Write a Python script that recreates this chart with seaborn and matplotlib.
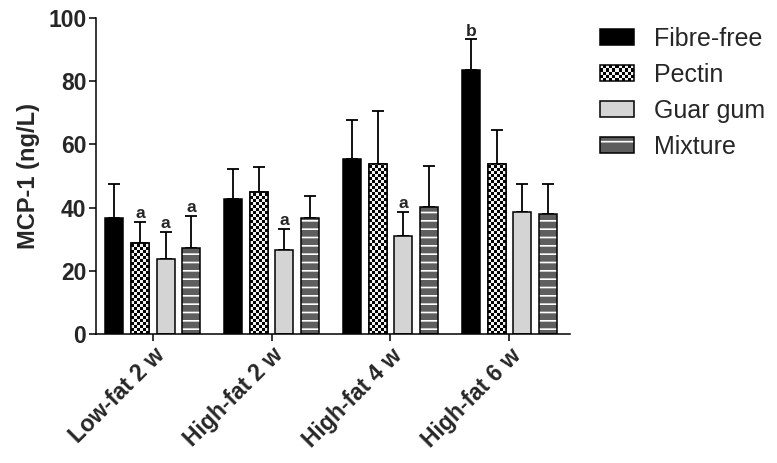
import numpy as np
import pandas as pd
import matplotlib
matplotlib.use("Agg")
import matplotlib.pyplot as plt
import seaborn as sns
from matplotlib.patches import Rectangle
from matplotlib.colors import ListedColormap
from matplotlib.legend_handler import HandlerBase, HandlerTuple

# ---------------- data ----------------
groups = ["Low-fat 2 w", "High-fat 2 w", "High-fat 4 w", "High-fat 6 w"]
diets = ["Fibre-free", "Pectin", "Guar gum", "Mixture"]
fibre_free = [36.6, 42.7, 55.4, 83.5]
fibre_free_err = [11.0, 9.6, 12.3, 9.7]
pectin = [28.7, 44.9, 53.8, 53.8]
pectin_err = [6.8, 8.1, 16.8, 10.8]
guar_gum = [23.7, 26.6, 31.0, 38.6]
guar_gum_err = [8.7, 6.6, 7.6, 8.9]
mixture = [27.3, 36.7, 40.2, 38.0]
mixture_err = [10.0, 7.0, 13.0, 9.5]
letters_ff = ["", "", "", "b"]
letters_pe = ["a", "", "", ""]
letters_gg = ["a", "a", "a", ""]
letters_mx = ["a", "", "", ""]
y_ticks = [0, 20, 40, 60, 80, 100]

values = [fibre_free, pectin, guar_gum, mixture]
errors = [fibre_free_err, pectin_err, guar_gum_err, mixture_err]
letters = [letters_ff, letters_pe, letters_gg, letters_mx]

rows = []
for d, vals in zip(diets, values):
    for g, v in zip(groups, vals):
        rows.append({"group": g, "diet": d, "value": v})
df = pd.DataFrame(rows)

# ---------------- style ----------------
sns.set_style("ticks")
plt.rcParams["font.family"] = ["Liberation Sans", "DejaVu Sans"]
plt.rcParams["hatch.linewidth"] = 1.2

colors = {"Fibre-free": "#000000", "Pectin": "#ffffff",
          "Guar gum": "#d4d4d4", "Mixture": "#5e5e5e"}

fig = plt.figure(figsize=(7.77, 4.63), dpi=100)
ax = fig.add_axes([96 / 777, 1 - 334 / 463, (570 - 96) / 777, (334 - 18) / 463])

sns.barplot(data=df, x="group", y="value", hue="diet", order=groups,
            hue_order=diets, palette=colors, width=0.865, gap=0.3,
            errorbar=None, edgecolor="black", linewidth=1.1, ax=ax,
            legend=False)

xlim = (-0.477, 3.51)
ylim = (0, 100)
ax.set_xlim(*xlim)
ax.set_ylim(*ylim)

checker_cmap = ListedColormap(["#f2f2f2", "#000000"])
bar_containers = list(ax.containers)[:len(diets)]

for k, cont in enumerate(bar_containers):
    diet = diets[k]
    for i, p in enumerate(cont.patches):
        x0 = p.get_x()
        w = p.get_width()
        h = p.get_height()
        xc = x0 + w / 2
        if diet == "Pectin":
            (px0, py0) = ax.transData.transform((x0, 0))
            (px1, py1) = ax.transData.transform((x0 + w, h))
            nx = max(1, int(round((px1 - px0) / 3.0)))
            ny = max(1, int(round((py1 - py0) / 3.0)))
            arr = np.add.outer(np.arange(ny), np.arange(nx)) % 2
            im = ax.imshow(arr, extent=(x0, x0 + w, 0, ny * 3.0 * h / (py1 - py0)),
                           origin="lower", cmap=checker_cmap, interpolation="nearest",
                           aspect="auto", zorder=p.get_zorder() + 0.1)
            im.set_clip_path(p)
            ax.add_patch(Rectangle((x0, 0), w, h, fill=False, edgecolor="black",
                                   linewidth=1.1, zorder=p.get_zorder() + 0.2))
        if diet == "Mixture":
            p.set_hatch("--")
            p.set_edgecolor("white")
            p.set_linewidth(0)
            ax.add_patch(Rectangle((x0, 0), w, h, fill=False, edgecolor="black",
                                   linewidth=1.1, zorder=p.get_zorder() + 0.2))
        err = errors[k][i]
        ax.errorbar(xc, h, yerr=[[0], [err]], fmt="none", ecolor="black",
                    elinewidth=1.3, capsize=4.5, capthick=1.3,
                    zorder=p.get_zorder() - 0.05)
        lab = letters[k][i]
        if lab:
            ax.text(xc, h + err + 0.3, lab, ha="center", va="bottom",
                    fontsize=12.5, fontweight="bold")

ax.set_xlim(*xlim)
ax.set_ylim(*ylim)
ax.set_yticks(y_ticks)
ax.set_yticklabels([str(t) for t in y_ticks], fontsize=16.5, fontweight="bold")
ax.set_xticks(range(len(groups)))
ax.set_xticklabels(groups, rotation=45, ha="right", rotation_mode="anchor",
                   fontsize=16.5, fontweight="bold")
ax.set_xlabel("")
ax.set_ylabel("MCP-1 (ng/L)", fontsize=17, fontweight="bold", labelpad=6)
for s in ["top", "right"]:
    ax.spines[s].set_visible(False)
for s in ["left", "bottom"]:
    ax.spines[s].set_linewidth(1.1)
    ax.spines[s].set_color("black")
ax.tick_params(axis="both", length=5, width=1.1, color="black", direction="out",
               pad=2)


# ---------------- legend ----------------
class CheckerHandler(HandlerBase):
    def create_artists(self, legend, orig_handle, xdescent, ydescent, width,
                       height, fontsize, trans):
        arts = [Rectangle((-xdescent, -ydescent), width, height,
                          facecolor="#f2f2f2", edgecolor="none", transform=trans)]
        nx, ny = 11, 5
        cw, ch = width / nx, height / ny
        for i in range(nx):
            for j in range(ny):
                if (i + j) % 2:
                    arts.append(Rectangle((-xdescent + i * cw, -ydescent + j * ch),
                                          cw, ch, facecolor="black",
                                          edgecolor="none", transform=trans))
        arts.append(Rectangle((-xdescent, -ydescent), width, height, fill=False,
                              edgecolor="black", linewidth=1.1, transform=trans))
        return arts


class PectinKey:
    pass


h_ff = Rectangle((0, 0), 1, 1, facecolor="black", edgecolor="black", linewidth=1.1)
h_pe = PectinKey()
h_gg = Rectangle((0, 0), 1, 1, facecolor=colors["Guar gum"], edgecolor="black",
                 linewidth=1.1)
h_mx = (Rectangle((0, 0), 1, 1, facecolor=colors["Mixture"], edgecolor="white",
                  hatch="-", linewidth=0),
        Rectangle((0, 0), 1, 1, fill=False, edgecolor="black", linewidth=1.1))

fig.legend([h_ff, h_pe, h_gg, h_mx], diets, loc="upper left",
           bbox_to_anchor=(600 / 777, 1 - 27 / 463), frameon=False,
           fontsize=18, handlelength=1.36, handleheight=0.64,
           handletextpad=0.8, labelspacing=0.48, borderpad=0, borderaxespad=0,
           handler_map={PectinKey: CheckerHandler(),
                        tuple: HandlerTuple(ndivide=1, pad=0)})

fig.savefig("out.png", dpi=100)
